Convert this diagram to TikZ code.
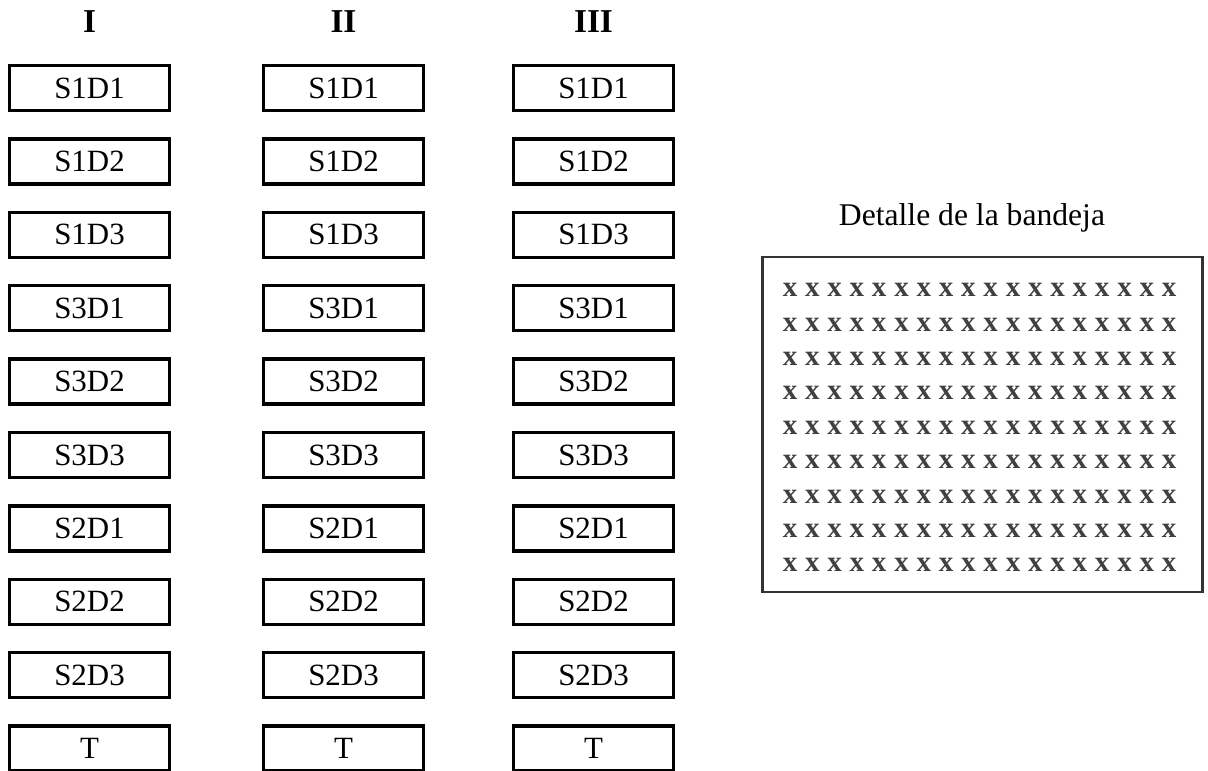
\documentclass[tikz,border=0pt]{standalone}
\usepackage{fontspec}
\setmainfont{Liberation Serif}
\usetikzlibrary{positioning}

\begin{document}
\begin{tikzpicture}[
  x=0.02cm, y=-0.02cm,
  slot/.style={draw, line width=1.9pt, minimum width=3.2cm,
               minimum height=0.9cm, inner sep=0pt,
               font=\fontsize{17.6}{20}\selectfont},
  head/.style={font=\fontsize{19}{22}\selectfont\bfseries},
  tray/.style={draw=black!80, line width=1.3pt, minimum width=8.8cm,
               minimum height=6.7cm, inner sep=0pt},
  xmark/.style={inner sep=0pt, text=black!75, font=\fontsize{16.5}{19}\selectfont\bfseries}
]
  \useasboundingbox (0,0) rectangle (1208,771);

  % the three columns of trays
  \foreach \c/\cx/\h in {1/89.5/I, 2/343.5/II, 3/593.5/III}{
    \node[head] (head\c) at (\cx,22) {\h};
    \foreach \lbl [count=\r from 0] in {S1D1,S1D2,S1D3,S3D1,S3D2,S3D3,S2D1,S2D2,S2D3,T}
      \node[slot] (slot\c-\r) at (\cx,{88+73.4*\r}) {\lbl};
  }

  % detail of one tray
  \node[anchor=base, font=\fontsize{18}{21}\selectfont] (traytitle) at (972,225) {Detalle de la bandeja};
  \node[tray] (bandeja) at (982.5,424.5) {};
  \foreach \j in {0,...,8}
    \foreach \i in {0,...,17}
      \node[xmark] (x\i-\j) at ({790+22.3*\i},{290+34.4*\j}) {x};
\end{tikzpicture}
\end{document}
